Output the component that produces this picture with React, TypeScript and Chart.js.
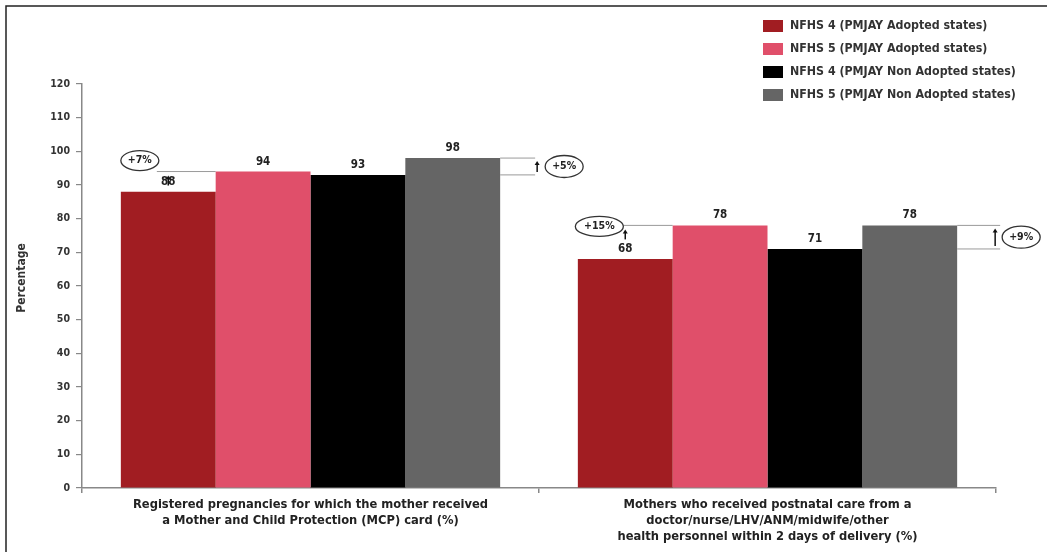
import React, { useEffect, useRef } from "react";
import { Chart, registerables } from "chart.js";

Chart.register(...registerables);

const categories: string[][] = [
  ["Registered pregnancies for which the mother received", "a Mother and Child Protection (MCP) card (%)"],
  ["Mothers who received postnatal care from a", "doctor/nurse/LHV/ANM/midwife/other", "health personnel within 2 days of delivery (%)"],
];
const seriesNames = [
  "NFHS 4 (PMJAY Adopted states)",
  "NFHS 5 (PMJAY Adopted states)",
  "NFHS 4 (PMJAY Non Adopted states)",
  "NFHS 5 (PMJAY Non Adopted states)",
];
const nfhs4Adopted = [88, 68];
const nfhs5Adopted = [94, 78];
const nfhs4NonAdopted = [93, 71];
const nfhs5NonAdopted = [98, 78];
const adoptedChange = ["+7%", "+15%"];
const nonAdoptedChange = ["+5%", "+9%"];
const colors = ["#a11d22", "#e04f6a", "#000000", "#656565"];
const yTicks = { min: 0, max: 120, step: 10 };

const FONT = '"Liberation Sans Narrow", "DejaVu Sans Condensed", Arial, sans-serif';

const annotPlugin = {
  id: "annot",
  beforeDraw(chart: any) {
    const ctx = chart.ctx;
    ctx.save();
    ctx.fillStyle = "#fff";
    ctx.fillRect(0, 0, chart.width, chart.height);
    ctx.strokeStyle = "#222";
    ctx.lineWidth = 1.5;
    ctx.beginPath();
    ctx.moveTo(6, chart.height);
    ctx.lineTo(6, 6);
    ctx.lineTo(chart.width, 6);
    ctx.stroke();
    ctx.restore();
  },
  afterDraw(chart: any) {
    const ctx = chart.ctx;
    const y = chart.scales.y;
    ctx.save();
    // value labels
    ctx.font = "bold 11.5px " + FONT;
    ctx.fillStyle = "#222";
    ctx.textAlign = "center";
    ctx.textBaseline = "middle";
    chart.data.datasets.forEach((ds: any, di: number) => {
      const meta = chart.getDatasetMeta(di);
      meta.data.forEach((bar: any, i: number) => {
        ctx.fillText(String(ds.data[i]), bar.x, bar.y - 10);
      });
    });

    const m0 = chart.getDatasetMeta(0).data;
    const m3 = chart.getDatasetMeta(3).data;

    const ellipse = (cx: number, cy: number, w: number, h: number, t: string) => {
      ctx.strokeStyle = "#333";
      ctx.lineWidth = 1.3;
      ctx.beginPath();
      ctx.ellipse(cx, cy, w / 2, h / 2, 0, 0, Math.PI * 2);
      ctx.fillStyle = "#fff";
      ctx.fill();
      ctx.stroke();
      ctx.fillStyle = "#222";
      ctx.font = "bold 10.5px " + FONT;
      ctx.fillText(t, cx, cy);
    };
    const arrow = (x: number, y1: number, y2: number) => {
      ctx.strokeStyle = "#111";
      ctx.fillStyle = "#111";
      ctx.lineWidth = 1.5;
      ctx.beginPath();
      ctx.moveTo(x, y1);
      ctx.lineTo(x, y2 + 3);
      ctx.stroke();
      ctx.beginPath();
      ctx.moveTo(x, y2);
      ctx.lineTo(x - 2.5, y2 + 4);
      ctx.lineTo(x + 2.5, y2 + 4);
      ctx.closePath();
      ctx.fill();
    };
    const hline = (x1: number, x2: number, yy: number) => {
      ctx.strokeStyle = "#9a9a9a";
      ctx.lineWidth = 1;
      ctx.beginPath();
      ctx.moveTo(x1, yy);
      ctx.lineTo(x2, yy);
      ctx.stroke();
    };

    for (let i = 0; i < categories.length; i++) {
      const b0 = m0[i], b3 = m3[i];
      const hw = b0.width / 2;
      const redLeft = b0.x - hw;
      const redRight = b0.x + hw;
      const grayRight = b3.x + b3.width / 2;
      const yPink = y.getPixelForValue(nfhs5Adopted[i]);
      const yGray = y.getPixelForValue(nfhs5NonAdopted[i]);
      const yBlack = y.getPixelForValue(nfhs4NonAdopted[i]);
      // left annotation
      const lw = adoptedChange[i].length > 3 ? 48 : 38;
      const lcx = redLeft + 19 + (lw - 38) / 4;
      hline(lcx + lw / 2 - 2, redRight, yPink);
      arrow(b0.x, yPink + 14, yPink + 4);
      ellipse(lcx, i === 0 ? yPink - 11 : yPink + 1, lw, 20, adoptedChange[i]);
      // right annotation
      const rEnd = grayRight + (i === 0 ? 35 : 43);
      hline(grayRight, rEnd, yGray);
      hline(grayRight, rEnd, yBlack);
      arrow(grayRight + (i === 0 ? 37 : 38), yBlack - 3, yGray + 3);
      ellipse(grayRight + 64, (yGray + yBlack) / 2, 38, 22, nonAdoptedChange[i]);
    }

    // legend
    ctx.textAlign = "left";
    ctx.font = "bold 12.3px " + FONT;
    const rows = [26, 49, 72, 95];
    seriesNames.forEach((n, k) => {
      ctx.fillStyle = colors[k];
      ctx.fillRect(763, rows[k] - 6, 20, 12);
      ctx.fillStyle = "#333";
      ctx.fillText(n, 790, rows[k]);
    });

    // y title
    ctx.save();
    ctx.translate(22, 278);
    ctx.rotate(-Math.PI / 2);
    ctx.textAlign = "center";
    ctx.font = "bold 12px " + FONT;
    ctx.fillStyle = "#333";
    ctx.fillText("Percentage", 0, 0);
    ctx.restore();
    ctx.restore();
  },
};

export default function App() {
  const ref = useRef<HTMLCanvasElement>(null);
  useEffect(() => {
    if (!ref.current) return;
    const data = [nfhs4Adopted, nfhs5Adopted, nfhs4NonAdopted, nfhs5NonAdopted];
    const chart = new Chart(ref.current, {
      type: "bar",
      data: {
        labels: categories,
        datasets: data.map((d, k) => ({
          label: seriesNames[k],
          data: d,
          backgroundColor: colors[k],
          borderWidth: 0,
          categoryPercentage: 0.83,
          barPercentage: 1,
        })),
      },
      options: {
        responsive: false,
        animation: false,
        layout: { padding: { left: 0, top: 84, right: 51, bottom: 0 } },
        plugins: { legend: { display: false }, tooltip: { enabled: false } },
        scales: {
          x: {
            grid: { offset: true, drawOnChartArea: false, tickLength: 5, color: "#888", lineWidth: 1.5 },
            border: { color: "#888", width: 1.5 },
            ticks: {
              color: "#222",
              font: { family: FONT, size: 12.8, weight: "bold", lineHeight: "16px" },
              padding: 4,
              maxRotation: 0,
              autoSkip: false,
            },
            afterFit: (s: any) => { s.height = 64; },
          },
          y: {
            min: yTicks.min,
            max: yTicks.max,
            grid: { drawOnChartArea: false, tickLength: 6, color: "#888", lineWidth: 1.2 },
            border: { color: "#888", width: 1.5 },
            ticks: {
              stepSize: yTicks.step,
              color: "#333",
              font: { family: FONT, size: 10.5, weight: "bold" },
              padding: 6,
            },
            afterFit: (s: any) => { s.width = 82; },
          },
        },
      },
      plugins: [annotPlugin],
    } as any);
    return () => chart.destroy();
  }, []);
  return (
    <div style={{ position: "fixed", left: 0, top: 0, width: 1047, height: 552 }}>
      <canvas ref={ref} width={1047} height={552} style={{ width: 1047, height: 552 }} />
    </div>
  );
}
